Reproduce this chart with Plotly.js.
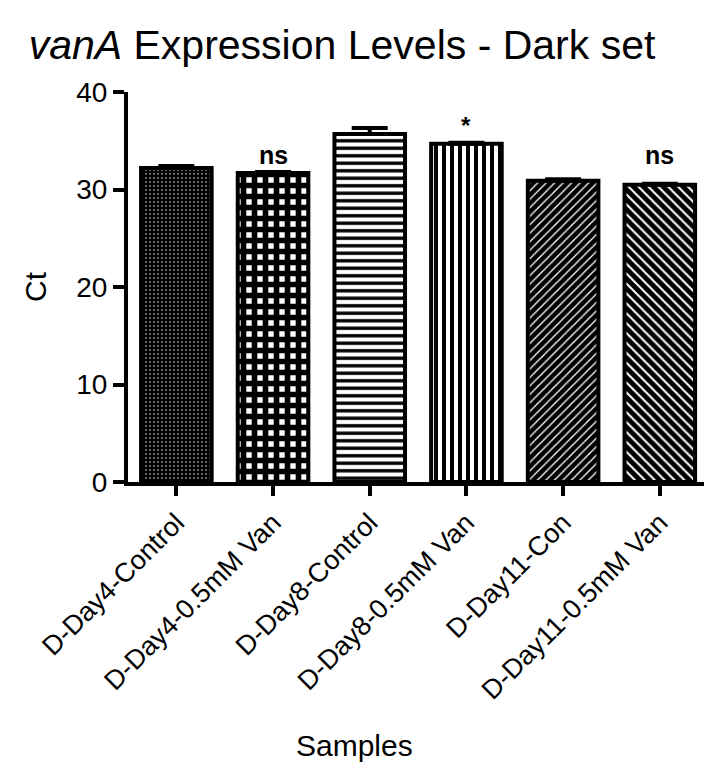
<!DOCTYPE html>
<html>
<head>
<meta charset="utf-8">
<script src="https://cdn.plot.ly/plotly-3.0.1.min.js"></script>
<style>html,body{margin:0;padding:0;background:#fff;}</style>
</head>
<body>
<div id="chart" style="width:704px;height:768px;"></div>
<script>
// Data
const categories = ["D-Day4-Control", "D-Day4-0.5mM Van", "D-Day8-Control", "D-Day8-0.5mM Van", "D-Day11-Con", "D-Day11-0.5mM Van"];
const ctValues = [32.2, 31.7, 35.7, 34.7, 30.9, 30.5];
const ctErrors = [0.2, 0.1, 0.6, 0.1, 0.15, 0.1];
const significance = ["", "ns", "", "*", "", "ns"];
const yTicks = [0, 10, 20, 30, 40];

const patternShapes = [".", "+", "-", "|", "/", "\\"];
const patternFg = ["#ffffff", "#000000", "#000000", "#000000", "#ffffff", "#ffffff"];
const patternBg = ["#000000", "#ffffff", "#ffffff", "#ffffff", "#000000", "#000000"];
const patternSize = [4, 11, 7.5, 8, 6, 7];
const patternSolidity = [0.1, 0.76, 0.45, 0.5, 0.22, 0.28];

const font = "Liberation Sans, Arial, sans-serif";

const bars = {
  type: "bar",
  x: categories,
  y: ctValues,
  width: 0.73,
  marker: {
    color: "#000000",
    line: {color: "#000000", width: 4},
    pattern: {
      shape: patternShapes,
      fgcolor: patternFg,
      bgcolor: patternBg,
      size: patternSize,
      solidity: patternSolidity,
      fillmode: "replace"
    }
  },
  error_y: {type: "data", array: ctErrors, symmetric: false, arrayminus: ctErrors.map(() => 0), color: "#000000", thickness: 4, width: 18},
  hoverinfo: "x+y"
};

const annotations = [];
significance.forEach((s, i) => {
  if (s) {
    annotations.push({
      x: categories[i], y: s === "*" ? 36.6 : 33.5, xref: "x", yref: "y",
      text: s === "*" ? "<b>*</b>" : "<b>ns</b>", showarrow: false,
      font: {family: font, size: s === "*" ? 24 : 25, color: "#000"},
      yanchor: "middle"
    });
  }
});
annotations.push({
  text: "Samples", xref: "paper", yref: "paper", x: (354 - 128) / 576, y: -263 / 390,
  xanchor: "center", yanchor: "middle", showarrow: false,
  font: {family: font, size: 30, color: "#000"}
});

const layout = {
  width: 704, height: 768,
  margin: {l: 128, r: 0, t: 92, b: 286},
  paper_bgcolor: "#ffffff", plot_bgcolor: "#ffffff",
  showlegend: false,
  title: {
    text: "<i>vanA</i> Expression Levels - Dark set",
    font: {family: font, size: 41, color: "#000"},
    x: 342 / 704, xanchor: "center", xref: "container",
    y: 1 - 45 / 768, yanchor: "middle", yref: "container"
  },
  xaxis: {
    range: [-0.5, 5.457],
    showline: true, linewidth: 4, linecolor: "#000",
    ticks: "outside", ticklen: 10, tickwidth: 4, tickcolor: "#000",
    tickangle: -45,
    tickfont: {family: font, size: 27, color: "#000"},
    showgrid: false, zeroline: false, automargin: false, fixedrange: true
  },
  yaxis: {
    range: [0, 40],
    tickvals: yTicks,
    ticktext: yTicks.map(String),
    showline: true, linewidth: 4, linecolor: "#000",
    ticks: "outside", ticklen: 11, tickwidth: 4, tickcolor: "#000",
    tickfont: {family: font, size: 28, color: "#000"},
    title: {text: "Ct", font: {family: font, size: 30, color: "#000"}, standoff: 22},
    showgrid: false, zeroline: false, automargin: false, fixedrange: true
  },
  annotations: annotations
};

Plotly.newPlot("chart", [bars], layout, {displayModeBar: false, staticPlot: true});
</script>
</body>
</html>
